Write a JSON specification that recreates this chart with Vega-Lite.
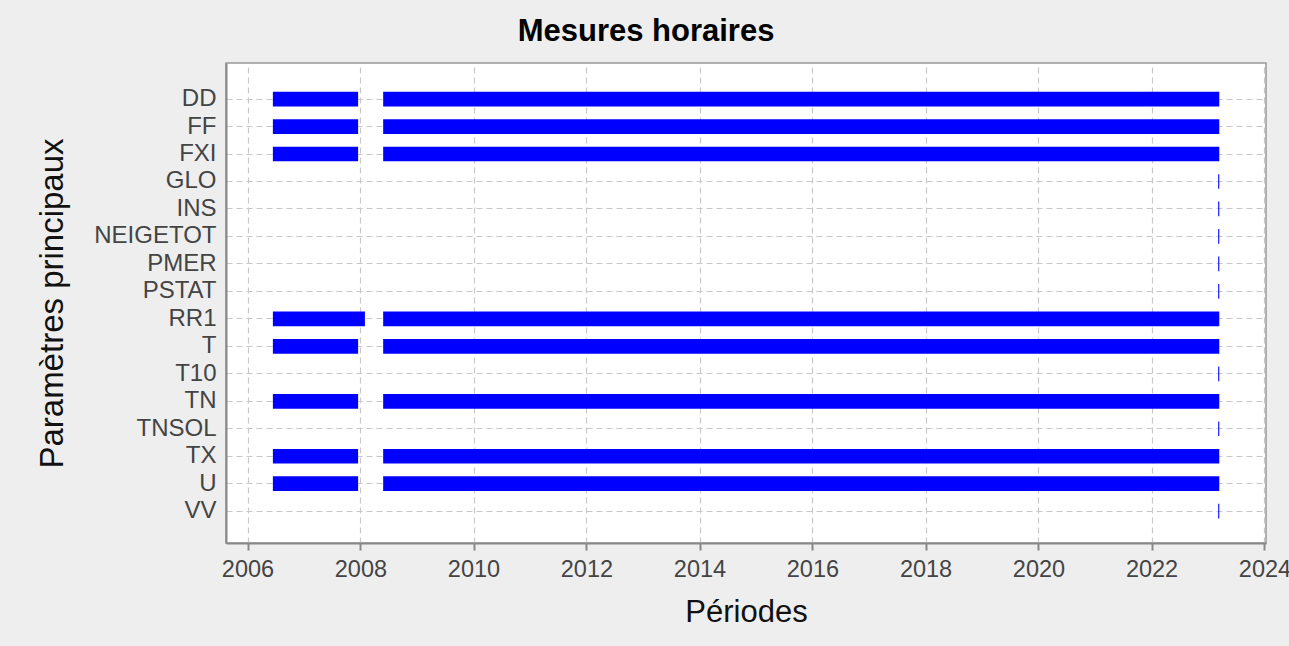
{
  "$schema": "https://vega.github.io/schema/vega-lite/v6.json",
  "width": 1040,
  "height": 480,
  "autosize": {"type": "none"},
  "padding": {"left": 226, "top": 63, "right": 23, "bottom": 103},
  "background": "#eeeeee",
  "title": {
    "text": "Mesures horaires",
    "font": "Liberation Sans",
    "fontSize": 31,
    "fontWeight": "bold",
    "color": "#000000",
    "anchor": "middle",
    "dx": -100,
    "offset": 15
  },
  "data": {
    "values": [
      {"param": "DD", "start": "2006-06-14", "end": "2007-12-17"},
      {"param": "DD", "start": "2008-05-27", "end": "2023-03-15"},
      {"param": "FF", "start": "2006-06-14", "end": "2007-12-17"},
      {"param": "FF", "start": "2008-05-27", "end": "2023-03-15"},
      {"param": "FXI", "start": "2006-06-14", "end": "2007-12-17"},
      {"param": "FXI", "start": "2008-05-27", "end": "2023-03-15"},
      {"param": "GLO", "start": "2023-03-08", "end": "2023-03-15"},
      {"param": "INS", "start": "2023-03-08", "end": "2023-03-15"},
      {"param": "NEIGETOT", "start": "2023-03-08", "end": "2023-03-15"},
      {"param": "PMER", "start": "2023-03-08", "end": "2023-03-15"},
      {"param": "PSTAT", "start": "2023-03-08", "end": "2023-03-15"},
      {"param": "RR1", "start": "2006-06-14", "end": "2008-01-30"},
      {"param": "RR1", "start": "2008-05-27", "end": "2023-03-15"},
      {"param": "T", "start": "2006-06-14", "end": "2007-12-17"},
      {"param": "T", "start": "2008-05-27", "end": "2023-03-15"},
      {"param": "T10", "start": "2023-03-08", "end": "2023-03-15"},
      {"param": "TN", "start": "2006-06-14", "end": "2007-12-17"},
      {"param": "TN", "start": "2008-05-27", "end": "2023-03-15"},
      {"param": "TNSOL", "start": "2023-03-08", "end": "2023-03-15"},
      {"param": "TX", "start": "2006-06-14", "end": "2007-12-17"},
      {"param": "TX", "start": "2008-05-27", "end": "2023-03-15"},
      {"param": "U", "start": "2006-06-14", "end": "2007-12-17"},
      {"param": "U", "start": "2008-05-27", "end": "2023-03-15"},
      {"param": "VV", "start": "2023-03-08", "end": "2023-03-15"}
    ]
  },
  "mark": {"type": "bar", "color": "#0000ff"},
  "encoding": {
    "y": {
      "field": "param",
      "type": "nominal",
      "scale": {
        "domain": ["DD", "FF", "FXI", "GLO", "INS", "NEIGETOT", "PMER", "PSTAT", "RR1", "T", "T10", "TN", "TNSOL", "TX", "U", "VV"],
        "paddingInner": 0.465,
        "paddingOuter": 0.968,
        "align": 0.54
      },
      "axis": {
        "title": "Paramètres principaux",
        "titleFontSize": 33,
        "labelFontSize": 24,
        "bandPosition": 0.5,
        "ticks": false,
        "labelPadding": 10,
        "titlePadding": 24
      }
    },
    "x": {
      "field": "start",
      "type": "temporal",
      "scale": {
        "type": "utc",
        "nice": false,
        "domain": [
          {"year": 2005, "month": 8, "date": 15, "utc": true},
          {"year": 2024, "month": 1, "date": 11, "utc": true}
        ]
      },
      "axis": {
        "title": "Périodes",
        "format": "%Y",
        "tickCount": {"interval": "year", "step": 2},
        "tickSize": 7,
        "labelPadding": 7,
        "labelFontSize": 23.5,
        "titlePadding": 17,
        "labelFlush": false,
        "labelOverlap": false
      }
    },
    "x2": {"field": "end"}
  },
  "config": {
    "view": {"fill": "#ffffff", "stroke": "#999999", "strokeWidth": 1.5},
    "axis": {
      "labelFont": "Liberation Sans",
      "labelFontSize": 23,
      "labelColor": "#444444",
      "titleFont": "Liberation Sans",
      "titleFontSize": 31,
      "titleFontWeight": "normal",
      "titleColor": "#111111",
      "domainColor": "#888888",
      "domainWidth": 2,
      "tickColor": "#888888",
      "tickWidth": 2,
      "grid": true,
      "gridColor": "#c8c8c8",
      "gridDash": [6, 4],
      "gridWidth": 1.2
    }
  }
}
